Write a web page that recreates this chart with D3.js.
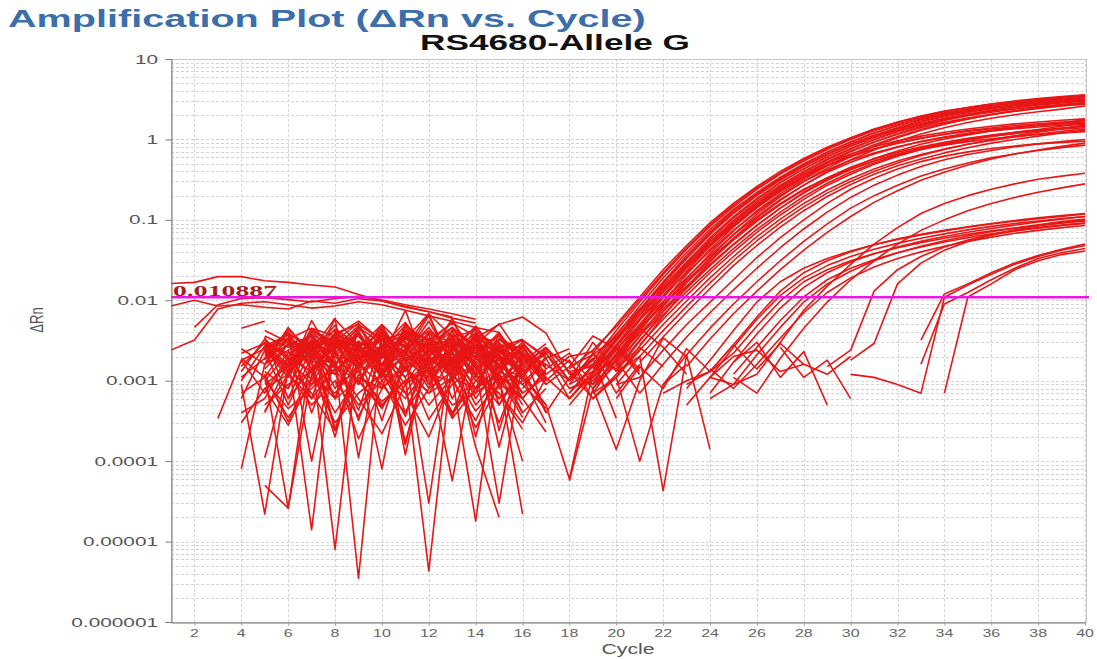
<!DOCTYPE html>
<html>
<head>
<meta charset="utf-8">
<script src="https://cdn.jsdelivr.net/npm/d3@7"></script>
<style>
  body { margin: 0; background: #fff; }
  svg { display: block; }
</style>
</head>
<body>
<svg id="chart" width="1097" height="659"></svg>
<script>
// axis ticks
const cycleTicks = d3.range(2, 41, 2);
const decadeTicks = [1e-6, 1e-5, 1e-4, 1e-3, 1e-2, 1e-1, 1, 10];
const decadeLabels = ["0.000001", "0.00001", "0.0001", "0.001", "0.01", "0.1", "1", "10"];
const threshold = 0.010887;

// every row: [first cycle, ΔRn at that cycle, next cycle, ...]; null = negative (not drawn on log axis)

// wells with high plateau (~3)
const groupA = [
  [18, 0.0009, 0.0022, 0.005, 0.011, 0.024, 0.048, 0.092, 0.16, 0.26, 0.40, 0.58, 0.80, 1.05, 1.35, 1.65, 1.95, 2.25, 2.5, 2.75, 2.95, 3.15, 3.35, 3.55],
  [18, 0.0011, 0.0018, 0.0042, 0.0095, 0.021, 0.043, 0.083, 0.145, 0.24, 0.37, 0.54, 0.75, 1.0, 1.28, 1.57, 1.86, 2.14, 2.4, 2.63, 2.84, 3.03, 3.22, 3.4],
  [18, 0.0007, 0.0016, 0.0037, 0.0085, 0.019, 0.039, 0.076, 0.135, 0.22, 0.34, 0.50, 0.70, 0.93, 1.2, 1.48, 1.76, 2.03, 2.28, 2.51, 2.72, 2.92, 3.11, 3.3],
  [18, 0.0013, 0.0015, 0.0034, 0.0077, 0.017, 0.036, 0.071, 0.13, 0.21, 0.33, 0.49, 0.69, 0.93, 1.2, 1.5, 1.8, 2.08, 2.35, 2.6, 2.83, 3.05, 3.25, 3.45],
  [18, null, 0.0014, 0.0031, 0.0072, 0.016, 0.033, 0.066, 0.12, 0.2, 0.31, 0.46, 0.65, 0.87, 1.12, 1.4, 1.68, 1.95, 2.2, 2.44, 2.66, 2.86, 3.04, 3.2],
  [18, 0.0006, 0.0012, 0.0028, 0.0065, 0.0145, 0.030, 0.060, 0.11, 0.185, 0.29, 0.43, 0.61, 0.82, 1.06, 1.32, 1.58, 1.83, 2.07, 2.3, 2.5, 2.68, 2.85, 3.0],
  [18, null, 0.0009, 0.0026, 0.006, 0.0135, 0.028, 0.057, 0.105, 0.18, 0.29, 0.43, 0.61, 0.83, 1.08, 1.36, 1.65, 1.93, 2.2, 2.46, 2.7, 2.93, 3.15, 3.35],
  [18, 0.0012, 0.0016, 0.0024, 0.0056, 0.0125, 0.026, 0.053, 0.098, 0.17, 0.27, 0.40, 0.57, 0.77, 1.0, 1.25, 1.5, 1.74, 1.97, 2.18, 2.38, 2.56, 2.73, 2.9],
  [18, null, 0.0008, 0.0021, 0.005, 0.0115, 0.025, 0.05, 0.093, 0.16, 0.26, 0.39, 0.56, 0.76, 1.0, 1.26, 1.53, 1.8, 2.06, 2.3, 2.52, 2.73, 2.92, 3.1],
  [18, 0.0008, 0.0011, 0.002, 0.0047, 0.0108, 0.023, 0.047, 0.088, 0.152, 0.245, 0.37, 0.53, 0.72, 0.93, 1.16, 1.4, 1.63, 1.85, 2.06, 2.25, 2.43, 2.6, 2.75],
  [18, null, 0.0007, 0.0018, 0.0041, 0.0095, 0.021, 0.043, 0.081, 0.142, 0.23, 0.35, 0.51, 0.7, 0.93, 1.18, 1.45, 1.72, 1.98, 2.24, 2.48, 2.7, 2.91, 3.08],
  [18, null, null, 0.0015, 0.0036, 0.0083, 0.0185, 0.038, 0.073, 0.13, 0.21, 0.32, 0.47, 0.65, 0.86, 1.09, 1.33, 1.57, 1.8, 2.03, 2.24, 2.44, 2.62, 2.8],
  [18, 0.0005, null, 0.0013, 0.0031, 0.0072, 0.0165, 0.034, 0.066, 0.118, 0.195, 0.3, 0.44, 0.61, 0.82, 1.05, 1.3, 1.55, 1.8, 2.04, 2.27, 2.48, 2.67, 2.85],
  [18, null, 0.0006, 0.0011, 0.0027, 0.0063, 0.0145, 0.03, 0.059, 0.106, 0.175, 0.27, 0.4, 0.56, 0.74, 0.95, 1.17, 1.4, 1.62, 1.83, 2.03, 2.21, 2.38, 2.6],
  [18, 0.0014, 0.0024, 0.0047, 0.0102, 0.022, 0.045, 0.087, 0.152, 0.25, 0.38, 0.56, 0.78, 1.03, 1.32, 1.62, 1.92, 2.22, 2.5, 2.76, 3.0, 3.22, 3.42, 3.6],
  [18, 0.0009, 0.0013, 0.0033, 0.0075, 0.0165, 0.034, 0.068, 0.124, 0.205, 0.32, 0.47, 0.66, 0.88, 1.13, 1.4, 1.67, 1.93, 2.18, 2.41, 2.62, 2.82, 3.0, 3.15]
];

// wells with plateau ~1.2-1.8
const groupB = [
  [18, 0.0010, 0.0018, 0.0038, 0.0078, 0.015, 0.029, 0.054, 0.095, 0.16, 0.25, 0.37, 0.51, 0.66, 0.81, 0.96, 1.1, 1.23, 1.35, 1.46, 1.56, 1.65, 1.73, 1.8],
  [18, 0.0007, 0.0015, 0.0032, 0.0066, 0.0128, 0.025, 0.047, 0.084, 0.142, 0.225, 0.335, 0.47, 0.61, 0.76, 0.9, 1.04, 1.17, 1.29, 1.39, 1.49, 1.57, 1.64, 1.7],
  [18, 0.0012, 0.0009, 0.0028, 0.0058, 0.0112, 0.022, 0.041, 0.074, 0.126, 0.2, 0.3, 0.42, 0.55, 0.68, 0.81, 0.94, 1.06, 1.17, 1.27, 1.36, 1.43, 1.5, 1.55],
  [18, 0.0005, 0.0011, 0.0024, 0.005, 0.0097, 0.019, 0.036, 0.065, 0.11, 0.18, 0.27, 0.39, 0.52, 0.66, 0.8, 0.94, 1.07, 1.19, 1.3, 1.4, 1.49, 1.57, 1.65],
  [18, null, 0.0008, 0.0019, 0.0044, 0.0086, 0.0165, 0.031, 0.056, 0.096, 0.155, 0.235, 0.335, 0.45, 0.57, 0.69, 0.81, 0.92, 1.03, 1.13, 1.22, 1.31, 1.38, 1.45],
  [18, 0.0009, null, 0.0019, 0.0039, 0.0078, 0.015, 0.028, 0.05, 0.086, 0.14, 0.22, 0.32, 0.44, 0.58, 0.72, 0.87, 1.01, 1.14, 1.27, 1.39, 1.5, 1.6, 1.75],
  [18, null, null, 0.0014, 0.0032, 0.0066, 0.0128, 0.024, 0.044, 0.076, 0.125, 0.195, 0.285, 0.39, 0.51, 0.63, 0.75, 0.87, 0.98, 1.09, 1.19, 1.28, 1.39, 1.5],
  [18, 0.0006, 0.0013, null, 0.0028, 0.0058, 0.0115, 0.022, 0.04, 0.07, 0.115, 0.18, 0.27, 0.37, 0.49, 0.62, 0.75, 0.88, 1.0, 1.12, 1.23, 1.33, 1.46, 1.6],
  [18, null, 0.0007, 0.0011, 0.0024, 0.005, 0.0098, 0.019, 0.035, 0.062, 0.102, 0.16, 0.235, 0.325, 0.43, 0.54, 0.65, 0.76, 0.87, 0.97, 1.07, 1.17, 1.26, 1.35],
  [18, 0.0011, null, 0.0009, 0.002, 0.0042, 0.0084, 0.0165, 0.031, 0.055, 0.092, 0.145, 0.215, 0.3, 0.4, 0.51, 0.63, 0.75, 0.87, 0.99, 1.11, 1.23, 1.36, 1.5],
  [18, 0.0008, 0.001, 0.0022, 0.0046, 0.009, 0.0175, 0.033, 0.059, 0.1, 0.16, 0.24, 0.33, 0.43, 0.54, 0.65, 0.75, 0.85, 0.94, 1.02, 1.09, 1.15, 1.2, 1.25],
  [18, null, 0.0013, 0.0017, 0.0036, 0.0073, 0.014, 0.027, 0.049, 0.085, 0.14, 0.215, 0.31, 0.42, 0.54, 0.66, 0.78, 0.89, 1.0, 1.1, 1.19, 1.27, 1.34, 1.4],
  [18, 0.0004, null, null, 0.0017, 0.0035, 0.0071, 0.014, 0.027, 0.048, 0.081, 0.13, 0.195, 0.275, 0.37, 0.47, 0.57, 0.68, 0.79, 0.9, 1.0, 1.1, 1.2, 1.3],
  [18, 0.0015, 0.0021, 0.0035, 0.0071, 0.0138, 0.027, 0.05, 0.088, 0.148, 0.235, 0.35, 0.48, 0.62, 0.76, 0.9, 1.03, 1.15, 1.26, 1.35, 1.43, 1.5, 1.56, 1.6]
];

// later wells, plateau ~0.9
const groupC = [
  [20, 0.0009, 0.0011, 0.0024, 0.005, 0.0095, 0.018, 0.034, 0.06, 0.10, 0.16, 0.24, 0.33, 0.43, 0.53, 0.62, 0.70, 0.77, 0.83, 0.88, 0.92, 0.95],
  [20, null, 0.0007, 0.0016, 0.0035, 0.007, 0.0135, 0.025, 0.045, 0.077, 0.125, 0.19, 0.27, 0.36, 0.46, 0.56, 0.65, 0.73, 0.81, 0.88, 0.94, 1.0],
  [20, 0.0014, null, 0.0009, 0.0021, 0.0045, 0.009, 0.017, 0.031, 0.054, 0.089, 0.14, 0.2, 0.27, 0.35, 0.43, 0.51, 0.59, 0.66, 0.73, 0.79, 0.85],
  [20, null, 0.0005, null, 0.0015, 0.0033, 0.0068, 0.013, 0.024, 0.042, 0.07, 0.11, 0.165, 0.23, 0.31, 0.39, 0.48, 0.57, 0.66, 0.74, 0.82, 0.9]
];

// slow wells reaching ~0.3-0.4
const groupD = [
  [24, 0.0006, 0.0009, 0.0012, 0.003, 0.0075, 0.015, 0.028, 0.05, 0.08, 0.12, 0.16, 0.2, 0.24, 0.28, 0.32, 0.35, 0.38],
  [24, null, 0.0011, 0.0007, 0.0019, 0.0045, 0.0095, 0.018, 0.031, 0.05, 0.074, 0.1, 0.13, 0.16, 0.19, 0.22, 0.25, 0.28]
];

// low plateau wells (~0.1)
const groupE = [
  [22, null, 0.0008, 0.0018, 0.0042, 0.0095, 0.017, 0.025, 0.033, 0.041, 0.049, 0.057, 0.065, 0.073, 0.081, 0.089, 0.096, 0.103, 0.11, 0.118],
  [22, 0.0006, null, 0.0011, 0.0026, 0.0058, 0.0115, 0.019, 0.027, 0.035, 0.043, 0.051, 0.059, 0.067, 0.075, 0.083, 0.09, 0.097, 0.104, 0.11],
  [22, null, 0.0009, 0.0013, 0.0022, 0.0048, 0.0098, 0.017, 0.024, 0.031, 0.038, 0.045, 0.052, 0.059, 0.066, 0.073, 0.079, 0.085, 0.091, 0.097],
  [22, null, null, 0.0007, 0.0017, 0.0038, 0.008, 0.0145, 0.022, 0.03, 0.038, 0.046, 0.054, 0.062, 0.07, 0.078, 0.086, 0.094, 0.102, 0.11],
  [22, 0.0012, null, null, 0.0012, 0.0026, 0.0056, 0.011, 0.018, 0.025, 0.032, 0.039, 0.046, 0.053, 0.06, 0.067, 0.073, 0.079, 0.085, 0.09],
  [22, null, 0.0005, 0.0011, 0.0009, 0.0021, 0.0046, 0.0095, 0.016, 0.023, 0.031, 0.039, 0.047, 0.055, 0.063, 0.071, 0.079, 0.087, 0.095, 0.102],
  [22, null, null, 0.0014, 0.0008, 0.0016, 0.0034, 0.007, 0.0125, 0.019, 0.026, 0.033, 0.04, 0.047, 0.054, 0.061, 0.068, 0.074, 0.08, 0.085],
  [22, 0.0007, 0.001, 0.0013, 0.0028, 0.0062, 0.013, 0.022, 0.031, 0.04, 0.049, 0.058, 0.066, 0.074, 0.082, 0.09, 0.098, 0.106, 0.113, 0.12],
  [22, null, null, null, null, null, null, null, 0.0015, 0.0024, 0.013, 0.024, 0.035, 0.046, 0.056, 0.065, 0.073, 0.08, 0.086, 0.092],
  [22, null, null, null, null, null, null, null, null, 0.0018, 0.0029, 0.016, 0.029, 0.042, 0.054, 0.065, 0.075, 0.084, 0.092, 0.1]
];

// very late wells (Ct 34-35)
const groupF = [
  [30, 0.0012, 0.0011, 0.0009, 0.0007, 0.0109, 0.0155, 0.021, 0.028, 0.035, 0.042, 0.048],
  [30, null, null, null, null, 0.0007, 0.011, 0.016, 0.024, 0.031, 0.037, 0.041],
  [30, null, null, null, 0.0032, 0.012, 0.016, 0.022, 0.029, 0.036, 0.043, 0.05],
  [30, null, null, null, 0.0016, 0.009, 0.0125, 0.018, 0.025, 0.033, 0.039, 0.044]
];

// early drifting wells above the baseline
const earlyHigh = [
  [1, 0.0162, 0.0167, 0.0197, 0.0197, 0.0175, 0.0167, 0.0155, 0.0146, 0.0118, 0.0098, 0.0084, 0.0072, 0.0062],
  [1, 0.0085, 0.01, 0.0085, 0.0088, 0.0082, 0.0078, 0.0098, 0.0092, 0.0105, 0.0098, 0.0082, 0.0072, 0.006, 0.0052],
  [1, 0.0024, 0.0032, 0.0078, 0.0092, 0.0096, 0.0088, 0.008, 0.0085, 0.0096, 0.0088, 0.0075, 0.0064, 0.0055, 0.0046, 0.004],
  [2, 0.0046, 0.0088, 0.0105, 0.0108, 0.0102, 0.0095, 0.0105, 0.0112, 0.0101, 0.0088, 0.0078, 0.0068, 0.0058],
  [4, 0.0045, 0.0055]
];

// baseline noise
const baseline = [
  [4, 1.8e-3, 2.5e-3, 1.1e-3, 3.2e-3, 2.0e-3, 4.1e-3, 1.5e-3, 2.8e-3, 9e-4, 2.2e-3, 1.2e-3, 1.9e-3, 7e-4],
  [5, 3.5e-3, 6e-4, 2.6e-3, 1.5e-3, 4.5e-3, 2.2e-3, 1.1e-3, 3.4e-3, 2.1e-3, 8e-4, 2.6e-3, 1.1e-3],
  [4, 9e-4, 2.2e-5, 1.4e-3, 3.8e-3, 1.6e-3, 2.9e-3, 8e-4, 5.2e-3, 2.4e-3, 1.3e-3, 3.1e-3, 1.6e-3, 4e-4],
  [5, 1.2e-3, 2.6e-5, 2.4e-3, 1.2e-3, 3.1e-3, 1.9e-3, 7.5e-3, 1.2e-3, 2.7e-3, 1.0e-3, 2.2e-3, 6e-4],
  [3, 3.4e-4, 1.8e-3, 7e-4, 2.0e-3, 1.4e-5, 3.6e-3, 1.6e-3, 2.3e-3, 1.1e-3, 4.3e-6, 1.8e-3, 3.5e-3, 9e-4, 2.0e-3],
  [4, 8e-5, 1.6e-3, 4.6e-3, 2.1e-3, 8e-6, 2.5e-3, 1.3e-3, 4.8e-3, 1.9e-3, 6e-3, 1.4e-3, 2.6e-3, 1.0e-3],
  [5, 2.6e-3, 1.2e-3, 5.6e-3, 1.8e-3, 3.5e-6, 2.8e-3, 1.5e-3, 3.3e-3, 1.1e-3, 1.8e-5, 2.4e-3, 1.2e-3],
  [4, 1.5e-3, 3.0e-3, 1.3e-3, 2.4e-3, 6e-3, 1.1e-4, 3.7e-3, 2.0e-3, 3e-5, 2.9e-3, 1.5e-3, 3e-5, 1.8e-3],
  [5, 5e-5, 2.6e-5, 1.2e-3, 3.4e-3, 1.7e-3, 8e-5, 2.6e-3, 1.5e-3, 5.7e-5, 2.1e-3, 1.0e-3, 1.0e-4],
  [5, 2.0e-3, 3.8e-3, 1.0e-4, 2.7e-3, 1.4e-3, 3.9e-3, 1.2e-4, 2.5e-3, 4.1e-3, 1.6e-3, 2.7e-3, 1.2e-3, 5e-4],
  [6, 1.7e-3, 2.9e-3, 4.2e-3, 1.8e-3, 3.3e-3, 2.3e-3, 4.6e-3, 1.9e-3, 3.6e-3, 2.0e-3, 1.4e-3, 2.3e-3],
  [5, 2.8e-3, 1.3e-3, 2.2e-3, 6e-4, 2.9e-3, 1.2e-3, 3.8e-3, 2.9e-3, 1.4e-3, 3.2e-3, 1.8e-3, 6e-4, 1.3e-3],
  [4, 1.1e-3, 1.9e-3, 3.1e-3, 1.0e-3, 4.0e-3, 2.7e-3, 1.2e-3, 2.1e-3, 5.5e-3, 1.7e-3, 2.6e-3, 9e-4, 1.6e-3],
  [5, 1.6e-3, 2.4e-3, 6e-4, 3.9e-3, 2.4e-3, 1.1e-3, 3.0e-3, 1.7e-3, 2.3e-3, 8e-4, 3.0e-3, 1.3e-3, 2.2e-3, 8e-4],
  [5, 9e-4, 1.5e-3, 3.2e-3, 8e-4, 2.1e-3, 4.7e-3, 1.8e-3, 1.1e-3, 2.9e-3, 1.2e-3, 5e-4, 1.7e-3],
  [6, 3.7e-3, 1.8e-3, 1.2e-3, 2.6e-3, 5.0e-3, 2.6e-3, 1.6e-3, 3.8e-3, 2.2e-3, 1.3e-3, 2.8e-3],
  [5, 2.2e-3, 4.0e-3, 2.3e-3, 4.9e-3, 1.3e-3, 2.0e-3, 3.6e-3, 1.0e-3, 2.5e-3, 3.8e-3, 1.0e-3, 2.0e-3],
  [4, 4e-4, 6e-4, 1.9e-3, 1.3e-3, 2.2e-3, 9e-4, 2.8e-3, 7e-4, 1.9e-3, 1.1e-3, 3.4e-3, 5e-4, 1.4e-3, 4e-4],
  [5, 1.3e-3, 8e-4, 4.1e-3, 2.2e-3, 1.5e-3, 3.7e-3, 2.2e-3, 6.4e-3, 1.6e-3, 2.7e-3, 1.6e-3, 9e-4, 2.0e-3],
  [6, 2.4e-3, 3.6e-3, 1.5e-3, 1.0e-3, 2.6e-3, 3.1e-3, 9e-4, 2.6e-3, 1.5e-3, 2.0e-3, 7e-4, 1.1e-3, 6e-4],
  [5, 3.0e-3, 1.9e-3, 9e-4, 2.9e-3, 1.9e-3, 5.0e-3, 1.4e-3, 2.0e-3, 3.3e-3, 1.5e-3, 2.1e-3, 1.3e-3],
  [7, 4.3e-3, 2.6e-3, 4.8e-3, 2.0e-3, 3.8e-3, 1.5e-3, 3.4e-3, 1.9e-3, 1.2e-3],
  [5, 1.9e-3, 2.8e-3, 1.7e-3, 5.8e-3, 2.8e-3, 1.4e-3, 2.5e-3, 4.2e-3, 1.1e-3, 2.4e-3, 3.6e-3, 1.7e-3],
  [4, 6e-4, 2.4e-3, 4.0e-3, 1.4e-3, 3.3e-3, 9e-4, 4.4e-3, 1.7e-3, 3.0e-3, 6e-4, 1.9e-3, 2.4e-3, 1.1e-3],
  [6, 1.1e-3, 4.4e-3, 2.8e-3, 1.6e-3, 4.2e-3, 1.8e-3, 2.9e-3, 5.4e-3, 2.2e-3, 1.6e-3, 3.0e-3, 1.4e-3],
  [5, 2.4e-3, 5e-4, 2.0e-3, 1.6e-3, 3.9e-3, 1.3e-3, 2.4e-3, 8e-4, 3.6e-3, 1.9e-3, 1.2e-3, 2.8e-3, 1.5e-3],
  [5, 4.2e-3, 3.0e-3, 2.0e-3, 3.3e-3, 2.3e-3, 3.4e-3, 2.7e-3, 1.3e-3, 4.3e-3, 2.6e-3, 1.8e-3],
  [6, 8e-4, 3.0e-3, 6e-4, 4.2e-3, 1.0e-3, 2.2e-3, 1.2e-3, 1.8e-3, 7e-4, 3.9e-3, 1.1e-3, 2.5e-3, 1.0e-3],
  [4, 1.3e-3, 3.3e-3, 1.8e-3, 2.7e-3, 1.2e-3, 3.1e-3, 2.0e-3, 4.0e-3, 1.3e-3, 2.3e-3, 4.8e-3, 2.0e-3, 1.2e-3, 2.5e-3],
  [5, 1.1e-4, 1.3e-3, 2.8e-3, 6e-4, 3.0e-3, 2.1e-3, 9e-4, 2.6e-3, 1.1e-3, 3.2e-3, 8e-4, 2.3e-3],
  [5, 2.1e-3, 3.3e-3, 4e-4, 2.3e-3, 3.0e-3, 1.1e-3, 4.4e-3, 2.0e-3, 3.5e-4, 2.8e-3, 1.9e-3, 7e-4],
  [4, 1.9e-3, 1.1e-3, 2.9e-3, 3.5e-3, 2.5e-4, 1.9e-3, 3.2e-3, 1.4e-3, 2.4e-3, 4.6e-3, 1.6e-3, 3.0e-4, 1.7e-3],
  [5, 3.2e-3, 2.0e-3, 3.6e-3, 1.4e-3, 2.1e-3, 4.4e-3, 1.7e-4, 2.3e-3, 3.1e-3, 2.0e-3, 4.0e-3, 1.5e-3, 2.6e-3],
  [6, 2.0e-3, 1.3e-3, 3.1e-3, 5.2e-3, 1.3e-3, 3.6e-4, 2.9e-3, 1.6e-3, 4.5e-3, 2.4e-4, 2.1e-3, 1.2e-3],
  [5, 1.4e-3, 2.9e-3, 1.6e-3, 2.0e-4, 2.7e-3, 1.6e-3, 3.3e-3, 6.8e-3, 1.4e-3, 2.8e-3, 5.1e-3, 1.9e-3, 9e-4],
  [4, 2.5e-3, 1.6e-3, 3.4e-3, 2.3e-3, 3.6e-3, 1.4e-3, 2.6e-3, 1.6e-4, 2.5e-3, 3.4e-3, 2.0e-4, 2.3e-3, 1.4e-3],
  [5, 1.0e-3, 2.2e-3, 2.9e-3, 1.7e-3, 4.3e-4, 3.2e-3, 1.9e-3, 2.8e-3, 1.3e-3, 3.9e-3, 2.4e-3, 1.1e-3, 3.0e-4],
  [6, 2.9e-3, 2.1e-3, 4.4e-3, 2.8e-3, 1.6e-3, 4.1e-3, 2.4e-3, 3.0e-3, 1.9e-3, 3.3e-3, 2.1e-3, 1.5e-3],
  [5, 2.7e-3, 3.7e-3, 1.8e-3, 3.0e-3, 2.0e-3, 2.6e-3, 3.9e-3, 2.1e-3, 3.1e-3, 1.7e-3, 2.8e-3, 1.6e-3],
  [4, 2.2e-3, 2.9e-3, 2.2e-3, 1.9e-3, 3.4e-3, 2.5e-3, 1.6e-3, 3.5e-3, 2.3e-3, 1.7e-3, 3.5e-3, 2.4e-3, 2.7e-3, 1.1e-3],
  [5, 4.0e-4, 1.7e-3, 2.6e-3, 2.4e-4, 1.6e-3, 2.8e-3, 4.0e-4, 1.8e-3, 2.2e-3, 6e-4, 1.5e-3, 2.4e-3],
  [5, 1.8e-3, 4.3e-3, 2.4e-3, 3.6e-3, 1.8e-3, 2.7e-3, 5.3e-3, 1.8e-3, 2.9e-3, 2.2e-3, 3.7e-3, 2.0e-3, 1.1e-3],
  [6, 3.1e-3, 2.3e-3, 3.8e-3, 2.6e-3, 4.0e-3, 1.7e-3, 2.8e-3, 4.6e-3, 2.7e-3, 2.4e-3, 1.7e-3, 2.9e-3],
  [5, 2.3e-3, 1.5e-3, 2.7e-3, 3.1e-3, 2.6e-3, 1.9e-3, 3.3e-3, 2.6e-3, 1.8e-3, 3.0e-3, 2.3e-3, 1.4e-3, 2.2e-3],
  [7, 1.3e-3, 3.6e-3, 2.1e-3, 3.2e-4, 2.4e-3, 3.7e-3, 1.0e-3, 2.7e-3, 1.5e-4, 2.0e-3],
  [5, 3.6e-3, 2.6e-3, 3.0e-3, 2.2e-3, 4.6e-3, 2.9e-3, 2.0e-3, 3.9e-3, 2.6e-3, 4.6e-3, 2.2e-3, 3.2e-3, 2.0e-3],
  [4, 1.0e-3, 2.7e-3, 1.5e-3, 4.4e-3, 2.9e-3, 2.3e-3, 3.5e-3, 1.3e-3, 4.1e-3, 2.9e-3, 1.1e-3, 3.3e-3, 1.8e-3],
  [5, 2.9e-3, 1.6e-3, 3.8e-3, 2.5e-3, 3.2e-4, 2.3e-3, 4.9e-3, 3.0e-3, 1.5e-3, 3.6e-3, 1.4e-3, 2.6e-3, 9e-4],
  [6, 1.5e-3, 3.3e-3, 2.5e-3, 3.6e-3, 1.5e-3, 3.4e-3, 2.0e-3, 1.2e-3, 3.2e-3, 2.7e-3, 3.2e-3, 1.9e-3, 2.5e-3],
  [5, 2.5e-3, 3.4e-3, 1.4e-3, 2.6e-3, 3.8e-3, 1.6e-3, 4.2e-3, 3.3e-3, 2.5e-3, 1.3e-3, 2.5e-3, 3.3e-3],
  [8, 3.9e-3, 5.0e-3, 3.2e-3, 2.6e-3, 6.8e-3, 3.5e-3, 4.2e-3, 2.5e-3, 1.9e-3],
  [6, 3.3e-3, 4.5e-3, 3.6e-3, 5.5e-3, 3.1e-3, 4.0e-3, 3.2e-3, 5.2e-3, 3.6e-3, 3.0e-3],
  [5, 1.2e-3, 3.1e-4, 1.4e-3, 2.0e-3, 1.0e-3, 4.5e-4, 1.5e-3, 7e-4, 1.9e-3, 5e-4, 1.1e-3, 3.5e-4],
  [4, 7e-4, 1.1e-3, 3.5e-4, 9e-4, 1.4e-3, 5e-4, 1.0e-3, 2.8e-4, 8e-4, 1.3e-3, 4.2e-4, 9e-4, 6e-4],
  [5, 5e-4, 9e-4, 1.3e-3, 3.0e-4, 7e-4, 1.2e-3, 6e-4, 1.5e-3, 3.8e-4, 1.0e-3, 7e-4, 2.5e-4],
  [5, 1.0e-3, 4.5e-4, 8e-4, 1.6e-3, 6e-4, 2.2e-4, 9e-4, 1.4e-3, 5e-4, 7e-4, 1.2e-3, 4e-4, 8e-4],
  [6, 6e-4, 1.4e-3, 4e-4, 1.1e-3, 8e-4, 1.7e-3, 3.3e-4, 9e-4, 1.5e-3, 6e-4, 1.0e-3],
  [4, 3.0e-4, 8e-4, 1.2e-3, 5e-4, 1.0e-3, 3.6e-4, 1.3e-3, 7e-4, 2.0e-4, 1.1e-3, 8e-4, 1.5e-3, 5e-4],
  [5, 8e-4, 2.8e-4, 1.1e-3, 7e-4, 1.6e-3, 9e-4, 4e-4, 1.2e-3, 1.0e-3, 3.2e-4, 1.3e-3, 9e-4, 4.5e-4],
  [7, 1.2e-3, 6e-4, 1.0e-3, 4.8e-4, 1.4e-3, 7e-4, 1.1e-3, 2.6e-4, 9e-4, 1.2e-3],
  [5, 4.2e-4, 1.2e-3, 6e-4, 1.4e-3, 1.9e-4, 8e-4, 1.5e-3, 5e-4, 1.1e-3, 1.6e-3, 6e-4, 1.0e-3],
  [8, 9e-4, 1.3e-3, 5e-4, 1.0e-3, 1.4e-3, 3.4e-4, 8e-4, 1.2e-3, 6e-4, 2.3e-4],
  [6, 1.5e-3, 7e-4, 2.4e-4, 1.2e-3, 5.5e-4, 1.0e-3, 1.6e-3, 4e-4, 1.2e-3, 7e-4, 3.0e-4, 1.1e-3],
  [13, 3.0e-3, 2.2e-3, 1.4e-3, 2.6e-3, 1.0e-3, 1.8e-3, 6e-4, 1.2e-3, 2.4e-3],
  [14, 2.6e-3, 1.5e-3, 1.1e-3, 5e-4, 6e-5, 1.3e-3, 2.8e-3, 1.4e-3],
  [15, 2.0e-3, 1.2e-3, 2.3e-3, 1.7e-3, 8e-4, 1.4e-4, 1.0e-3, 3.4e-3, 2.0e-3],
  [15, 2.8e-3, 2.2e-3, 1.6e-3, 1.0e-3, 2.1e-3, 1.4e-3, 2.6e-3, 1.5e-3],
  [15, 1.2e-3, 6e-4, 1.4e-3, 2.2e-3, 9e-4, 1.8e-3, 7e-4],
  [15, 3.3e-3, 2.4e-3, 4.0e-4, 1.1e-3, 1.9e-3, 3.4e-4],
  [16, 1.6e-3, 2.6e-3, 1.3e-3, 6e-4, 1.1e-3, 1.0e-4, 9e-4, 1.6e-3],
  [16, 3.0e-3, 1.2e-3, 2.0e-3, 2.3e-3, 7e-4, 1.6e-3],
  [16, 8e-4, 1.9e-3, 6e-4, 1.2e-3, 2.6e-3, 1.3e-3],
  [17, 2.2e-3, 1.0e-3, 3.0e-3, 1.3e-3, 2.0e-3, 4.3e-5, 2.1e-3, 1.4e-4],
  [13, 1.4e-3, 4.0e-3, 1.9e-3, 2.2e-3, 9e-4, 1.5e-3, 3.6e-3, 2.5e-3, 1.2e-3],
  [18, 5.7e-5, 8e-4, 1.6e-3, 4.5e-3, 2.6e-3, 1.2e-3],
  [20, 6e-4, 1.5e-3, 8e-4, 2.5e-3, 1.3e-3, 2.8e-3, 1.4e-3, 2.9e-3, 1.6e-3],
  [24, 1.1e-3, 2.0e-3, 2.4e-3, 1.3e-3, 1.6e-3, 1.2e-3, 2.0e-3],
  [25, 1.7e-3, 3.0e-3, 1.1e-3, 2.3e-3, 5e-4],
  [27, 2.6e-3, 1.1e-3, 1.8e-3, 6e-4],
  [13, 2.4e-3, 1.5e-4, 2e-5],
  [14, 3.1e-3, 1.1e-3, 2.2e-5],
  [14, 3.4e-3, 5.0e-3, 6.2e-3, 3.9e-3, 1.2e-3]
];

const W = 1097, H = 659;
const plotL = 171, plotR = 1085, plotT = 59, plotB = 622;
const sans = '"Liberation Sans", Arial, Helvetica, sans-serif';

const svg = d3.select("#chart");
const x = d3.scaleLinear().domain([1, 40]).range([plotL, plotR]);
const y = d3.scaleLog().domain([1e-6, 10]).range([plotB, plotT]);

// text drawn with the wide look of the reference
function label(g, px, py, str, o) {
  return g.append("text")
    .attr("transform", `translate(${px},${py}) scale(${o.sx || 1},1)` + (o.rot ? ` rotate(${o.rot})` : ""))
    .attr("text-anchor", o.anchor || "start")
    .attr("font-family", o.family || sans)
    .attr("font-size", o.size)
    .attr("font-weight", o.weight || "normal")
    .attr("fill", o.fill || "#555")
    .text(str);
}

svg.append("rect").attr("width", W).attr("height", H).attr("fill", "#fff");

svg.append("defs").append("clipPath").attr("id", "plotclip")
  .append("rect").attr("x", plotL).attr("y", plotT).attr("width", plotR - plotL + 1).attr("height", plotB - plotT);

// grid
const grid = svg.append("g").attr("stroke", "#d4d4d4").attr("stroke-width", 1).attr("stroke-dasharray", "3,2");
grid.selectAll("line.h")
  .data(y.ticks())
  .join("line")
  .attr("class", "h")
  .attr("x1", plotL).attr("x2", plotR)
  .attr("y1", d => Math.round(y(d)) + 0.5).attr("y2", d => Math.round(y(d)) + 0.5);
grid.selectAll("line.v")
  .data(cycleTicks)
  .join("line")
  .attr("class", "v")
  .attr("y1", plotT).attr("y2", plotB)
  .attr("x1", d => Math.round(x(d)) + 0.5).attr("x2", d => Math.round(x(d)) + 0.5);

svg.append("rect")
  .attr("x", plotL + 0.5).attr("y", plotT + 0.5)
  .attr("width", plotR - plotL + 1).attr("height", plotB - plotT)
  .attr("fill", "none").attr("stroke", "#c8c8c8");

// curves
const toPoints = row => row.slice(1).map((v, i) => ({c: row[0] + i, v}));
const line = d3.line()
  .defined(d => d.v != null && d.v > 0)
  .x(d => x(d.c))
  .y(d => y(d.v));

const wells = [].concat(baseline, earlyHigh, groupF, groupE, groupD, groupC, groupB, groupA);

svg.append("g")
  .attr("clip-path", "url(#plotclip)")
  .selectAll("path")
  .data(wells)
  .join("path")
  .attr("d", d => line(toPoints(d)))
  .attr("fill", "none")
  .attr("stroke", "#e81616")
  .attr("stroke-width", 1.6)
  .attr("stroke-linejoin", "round");

// threshold
svg.append("line")
  .attr("x1", plotL).attr("x2", plotR + 4)
  .attr("y1", y(threshold)).attr("y2", y(threshold))
  .attr("stroke", "#ec16ec")
  .attr("stroke-width", 2.6);

label(svg, plotL + 2, y(threshold) - 1, String(threshold), {
  size: 15, sx: 1.85, weight: "bold", fill: "#a81c1c",
  family: '"Liberation Serif", "Times New Roman", serif'
});

// axes
const yAxis = svg.append("g")
  .attr("transform", `translate(${plotL + 0.5},0)`)
  .call(d3.axisLeft(y).tickValues(decadeTicks).tickSize(6).tickFormat(""));
yAxis.select(".domain").attr("stroke", "#777");
yAxis.selectAll(".tick line").attr("stroke", "#777");

const xAxis = svg.append("g")
  .attr("transform", `translate(0,${plotB + 0.5})`)
  .call(d3.axisBottom(x).tickValues(cycleTicks).tickSize(3).tickFormat("").tickSizeOuter(0));
xAxis.select(".domain").attr("stroke", "#777");
xAxis.selectAll(".tick line").attr("stroke", "#999");

decadeTicks.forEach((t, i) => {
  label(svg, 158, y(t) + 4.5, decadeLabels[i], {size: 13, sx: 1.6, anchor: "end", fill: "#555"});
});
cycleTicks.forEach(t => {
  label(svg, x(t), 637, String(t), {size: 11, sx: 1.45, anchor: "middle", fill: "#666"});
});

label(svg, 628, 654, "Cycle", {size: 15, sx: 1.42, anchor: "middle", fill: "#555"});
label(svg, 43, 320, "ΔRn", {size: 13, sx: 1.35, rot: -90, anchor: "middle", fill: "#555"});

// titles
label(svg, 8, 27, "Amplification Plot (ΔRn vs. Cycle)", {size: 24, sx: 1.65, weight: "bold", fill: "#3b6eab"});
label(svg, 555, 50, "RS4680-Allele G", {size: 22, sx: 1.6, anchor: "middle", weight: "bold", fill: "#111"});
</script>
</body>
</html>
